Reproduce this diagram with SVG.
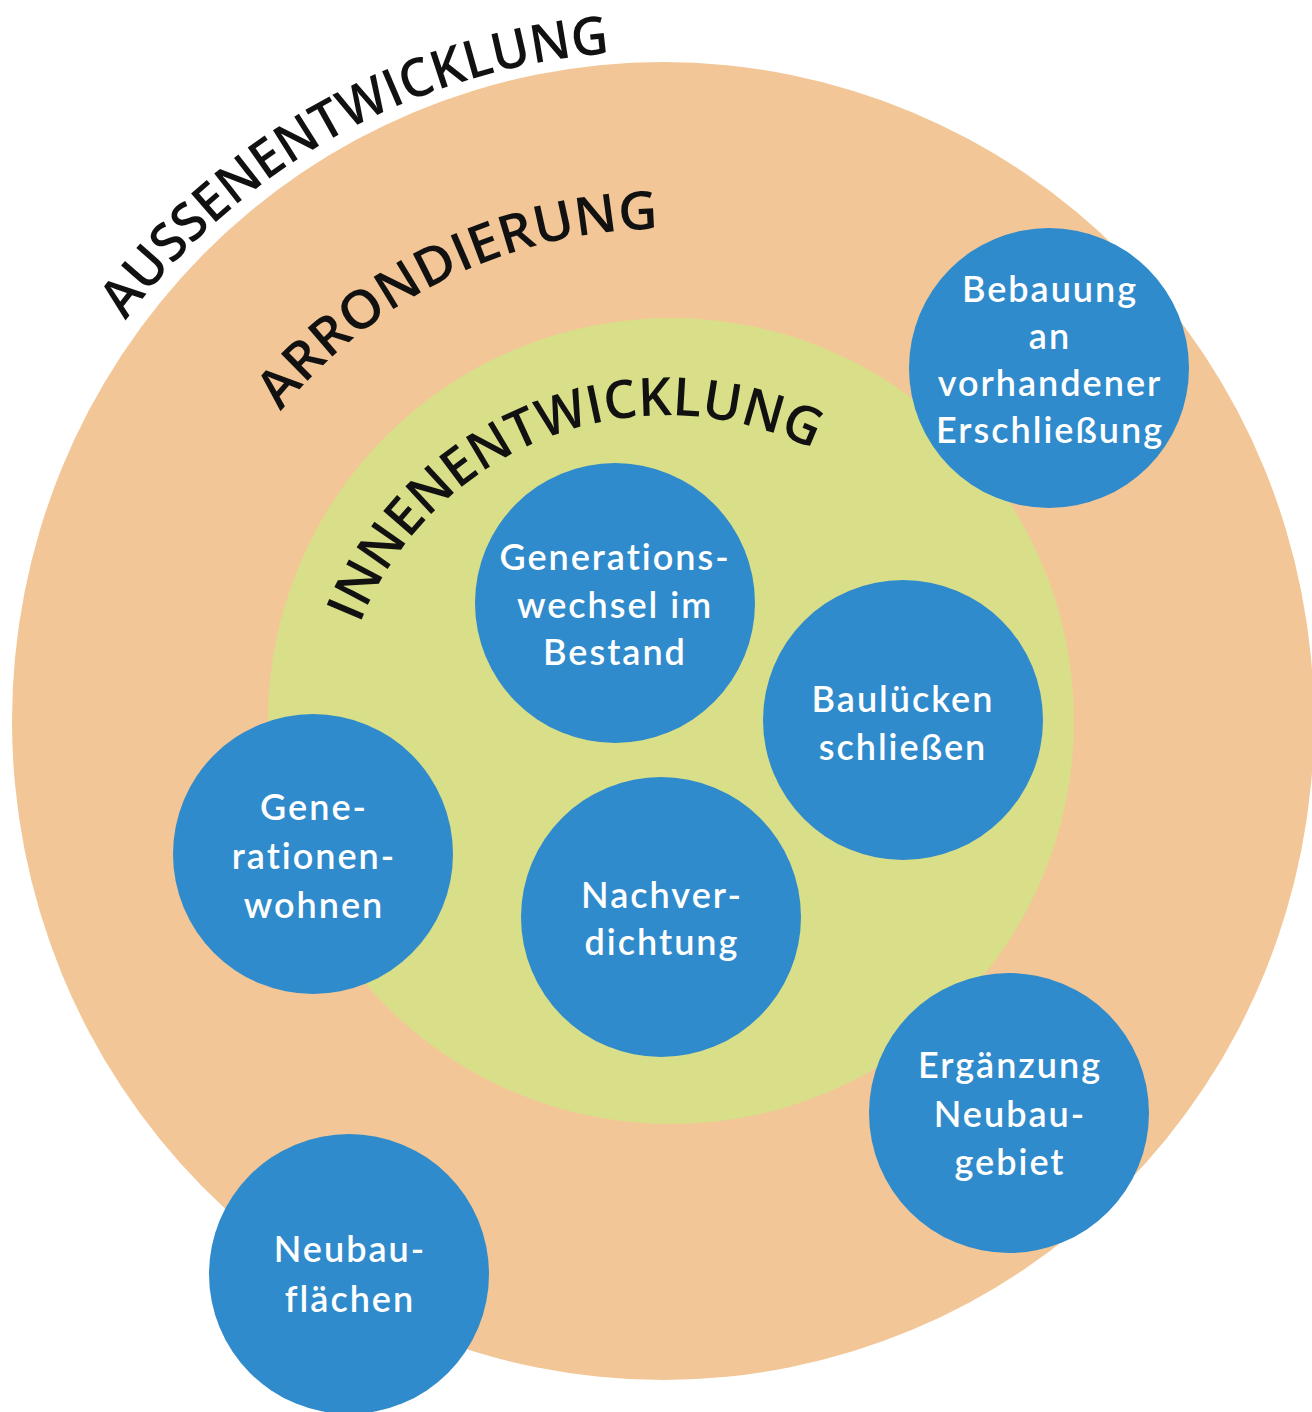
<svg xmlns="http://www.w3.org/2000/svg" width="1312" height="1412" viewBox="0 0 1312 1412">
<style>
.blue{fill:#2F8BCB}
.lbl{font-family:Lato,"Open Sans","DejaVu Sans",sans-serif;font-size:36px;font-weight:600;fill:#fff;text-anchor:middle;letter-spacing:2px}
.arc{font-family:"Open Sans","Liberation Sans",sans-serif;font-size:53px;font-weight:600;fill:#111}
</style>
<defs>
<path id="pAussen" d="M125.8,320.6 A670,670 0 0 1 610.4,53.1"/>
<path id="pArrond" d="M280.7,411.4 A492,492 0 0 1 658.7,229"/>
<path id="pInnen" d="M360,624 A330,330 0 0 1 810,448"/>
</defs>
<rect width="1312" height="1412" fill="#fff"/>
<g id="zones">
<ellipse id="aussen" cx="663" cy="721" rx="651" ry="659" fill="#F2C696"/>
<circle id="innen" cx="671" cy="721" r="403" fill="#D9DF88"/>
</g>
<g id="zone-labels">
<text class="arc"><textPath href="#pAussen" textLength="570" lengthAdjust="spacingAndGlyphs">AUSSENENTWICKLUNG</textPath></text>
<text class="arc"><textPath href="#pArrond" textLength="433" lengthAdjust="spacingAndGlyphs">ARRONDIERUNG</textPath></text>
<text class="arc"><textPath href="#pInnen" textLength="545" lengthAdjust="spacingAndGlyphs">INNENENTWICKLUNG</textPath></text>
</g>
<g id="connectors"></g>
<g id="n-bebauung">
<circle class="blue" cx="1049" cy="368" r="140"/>
<text class="lbl"><tspan x="1050" y="302">Bebauung</tspan><tspan x="1050" y="349">an</tspan><tspan x="1050" y="396">vorhandener</tspan><tspan x="1050" y="443">Erschließung</tspan></text>
</g>
<g id="n-generationswechsel">
<circle class="blue" cx="615" cy="603" r="140"/>
<text class="lbl"><tspan x="615" y="570">Generations-</tspan><tspan x="615" y="618">wechsel im</tspan><tspan x="615" y="665">Bestand</tspan></text>
</g>
<g id="n-bauluecken">
<circle class="blue" cx="903" cy="720" r="140"/>
<text class="lbl"><tspan x="903" y="712">Baulücken</tspan><tspan x="903" y="760">schließen</tspan></text>
</g>
<g id="n-generationenwohnen">
<circle class="blue" cx="313" cy="854" r="140"/>
<text class="lbl"><tspan x="314" y="820">Gene-</tspan><tspan x="314" y="869">rationen-</tspan><tspan x="314" y="918">wohnen</tspan></text>
</g>
<g id="n-nachverdichtung">
<circle class="blue" cx="661" cy="917" r="140"/>
<text class="lbl"><tspan x="662" y="908">Nachver-</tspan><tspan x="662" y="955">dichtung</tspan></text>
</g>
<g id="n-ergaenzung">
<circle class="blue" cx="1009" cy="1113" r="140"/>
<text class="lbl"><tspan x="1010" y="1078">Ergänzung</tspan><tspan x="1010" y="1127">Neubau-</tspan><tspan x="1010" y="1175">gebiet</tspan></text>
</g>
<g id="n-neubauflaechen">
<circle class="blue" cx="349" cy="1274" r="140"/>
<text class="lbl"><tspan x="350" y="1262">Neubau-</tspan><tspan x="350" y="1312">flächen</tspan></text>
</g>
</svg>
